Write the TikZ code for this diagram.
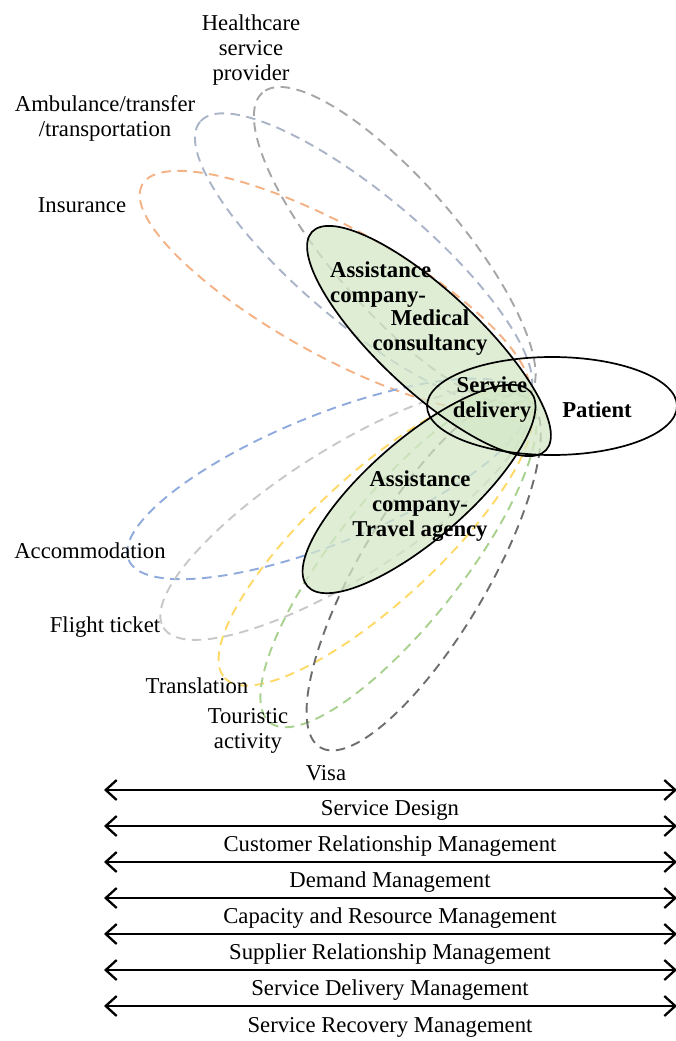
\documentclass[tikz,border=0pt]{standalone}
\usepackage{fontspec}
\setmainfont{Liberation Serif}
\usetikzlibrary{arrows.meta}
\definecolor{hcgray}{HTML}{A6A6A6}
\definecolor{ambgray}{HTML}{AAB4C8}
\definecolor{insor}{HTML}{F4B183}
\definecolor{accblue}{HTML}{8FAADC}
\definecolor{fltgray}{HTML}{C8C8C8}
\definecolor{trnyel}{HTML}{FFD966}
\definecolor{tourgrn}{HTML}{A9D18E}
\definecolor{visagray}{HTML}{6E6E6E}
\definecolor{lgreen}{HTML}{D5E8C8}
\newcommand{\petalell}[4]{\draw[petal,draw=#3,shift={(H)},rotate=#1] (#2,0) ellipse [x radius=#2, y radius=#4];}
\begin{document}
\begin{tikzpicture}[x=1pt,y=1pt,
  lbl/.style={font=\fontsize{22.7}{25}\selectfont, inner sep=0pt, align=center},
  blbl/.style={inner sep=0pt, font=\fontsize{22.7}{25}\selectfont\bfseries},
  petal/.style={dash pattern=on 9.5pt off 6.5pt, line width=1.9pt},
  greenfill/.style={fill=lgreen, fill opacity=0.75},
  outline/.style={draw=black, line width=1.7pt},
  dblarrow/.style={line width=2.3pt, {Straight Barb[length=11pt,width=20pt]}-{Straight Barb[length=11pt,width=20pt]}},
]
\useasboundingbox[fill=white] (0,0) rectangle (675,-1041);
\coordinate (H) at (527,-398);
% dashed petals
\petalell{130.9}{202}{hcgray}{64}
\petalell{139.8}{214}{ambgray}{64}
\petalell{151}{220}{insor}{64}
\petalell{202.1}{215}{accblue}{64}
\petalell{212.3}{215}{fltgray}{64}
\petalell{222.8}{206}{trnyel}{64}
\petalell{231.6}{207}{tourgrn}{64}
\petalell{239.4}{203}{visagray}{64}
% green ellipses
\coordinate (medc) at (429,-341);
\coordinate (travc) at (419,-489);
\coordinate (patc) at (552,-406);
\fill[greenfill, rotate around={-43:(medc)}] (medc) ellipse [x radius=160, y radius=50];
\fill[greenfill, rotate around={41:(travc)}] (travc) ellipse [x radius=148, y radius=50];
\draw[outline, rotate around={-43:(medc)}] (medc) ellipse [x radius=160, y radius=50];
\draw[outline, rotate around={41:(travc)}] (travc) ellipse [x radius=148, y radius=50];
\draw[outline] (patc) ellipse [x radius=125, y radius=49];
% labels of petals
\node[lbl] (hc) at (251,-50) {Healthcare\\service\\provider};
\node[lbl] (amb) at (105,-118) {Ambulance/transfer\\/transportation};
\node[lbl] (ins) at (82,-205) {Insurance};
\node[lbl] (acc) at (90,-551) {Accommodation};
\node[lbl] (flt) at (105,-627) {Flight ticket};
\node[lbl] (trn) at (197,-686) {Translation};
\node[lbl] (tour) at (248,-731) {Touristic\\activity};
\node[lbl] (visa) at (326,-773) {Visa};
% bold labels
\node[blbl, align=left, anchor=west] (med1) at (330,-285) {Assistance\\company-};
\node[blbl, align=center] (med2) at (430,-333) {Medical\\consultancy};
\node[blbl, align=center] (sd) at (492,-400) {Service\\delivery};
\node[blbl] (pat) at (597,-410) {Patient};
\node[blbl, align=center] (trav) at (420,-506) {Assistance\\company-\\Travel agency};
% management arrows
\foreach \i/\yy in {1/790,2/826,3/862,4/898,5/934,6/970,7/1006} {
  \coordinate (al\i) at (104,-\yy);
  \coordinate (ar\i) at (677,-\yy);
  \draw[dblarrow] (al\i) -- (ar\i);
}
\node[lbl] (sdes) at (390,-810) {Service Design};
\node[lbl] (crm) at (390,-846) {Customer Relationship Management};
\node[lbl] (dem) at (390,-882) {Demand Management};
\node[lbl] (capm) at (390,-918) {Capacity and Resource Management};
\node[lbl] (supm) at (390,-954) {Supplier Relationship Management};
\node[lbl] (sdm) at (390,-990) {Service Delivery Management};
\node[lbl] (srm) at (390,-1027) {Service Recovery Management};
\end{tikzpicture}
\end{document}
